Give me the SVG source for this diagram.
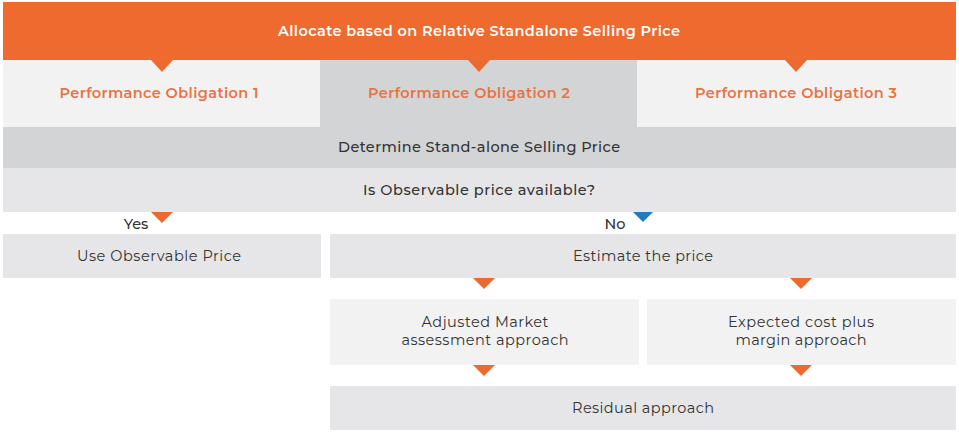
<svg xmlns="http://www.w3.org/2000/svg" width="959" height="433" viewBox="0 0 959 433">
<style>
text{font-family:"Montserrat","DejaVu Sans","Noto Sans",sans-serif;text-anchor:middle;font-size:14.5px}
.hd{fill:#ffffff;font-weight:600}
.po{fill:#e9733f;font-weight:600}
.md{fill:#333333;font-weight:500}
.rg{fill:#333333}
.lt{fill:#f2f2f3}
.dk{fill:#d3d4d6}
.mid{fill:#e6e6e8}
.ar{fill:#ec6a2f}
.bl{fill:#1f7ac4}
</style>
<rect width="959" height="433" fill="#ffffff"/>
<g id="allocate">
<rect x="3" y="2" width="953" height="58" fill="#ee6a2e"/>
<text class="hd" x="479" y="36" textLength="402">Allocate based on Relative Standalone Selling Price</text>
</g>
<g id="po1">
<rect class="lt" x="3" y="60" width="317" height="67"/>
<text class="po" x="159" y="98" textLength="199">Performance Obligation 1</text>
</g>
<g id="po2">
<rect class="dk" x="320" y="60" width="317" height="67"/>
<text class="po" x="469" y="98" textLength="202">Performance Obligation 2</text>
</g>
<g id="po3">
<rect class="lt" x="637" y="60" width="319" height="67"/>
<text class="po" x="796" y="98" textLength="202">Performance Obligation 3</text>
</g>
<g id="determine">
<rect class="dk" x="3" y="127" width="953" height="41"/>
<text class="md" x="479" y="152" textLength="282">Determine Stand-alone Selling Price</text>
</g>
<g id="observable">
<rect class="mid" x="3" y="168" width="953" height="44"/>
<text class="md" x="479" y="195" textLength="232">Is Observable price available?</text>
</g>
<g id="use">
<rect class="mid" x="3" y="234" width="318" height="44"/>
<text class="rg" x="159" y="261" textLength="164">Use Observable Price</text>
</g>
<g id="estimate">
<rect class="mid" x="330" y="234" width="626" height="44"/>
<text class="rg" x="643" y="261" textLength="140">Estimate the price</text>
</g>
<g id="adjusted">
<rect class="lt" x="330" y="299" width="309" height="66"/>
<text class="rg" x="485" y="327" textLength="127">Adjusted Market</text>
<text class="rg" x="485" y="345" textLength="167">assessment approach</text>
</g>
<g id="expected">
<rect class="lt" x="647" y="299" width="309" height="66"/>
<text class="rg" x="801" y="327" textLength="146">Expected cost plus</text>
<text class="rg" x="801" y="345" textLength="131">margin approach</text>
</g>
<g id="residual">
<rect class="mid" x="330" y="386" width="626" height="44"/>
<text class="rg" x="643" y="413" textLength="142">Residual approach</text>
</g>
<g id="connectors">
<polygon class="ar" points="151,60 173,60 162,72"/>
<polygon class="ar" points="468,60 490,60 479,72"/>
<polygon class="ar" points="785,60 807,60 796,72"/>
<polygon class="ar" points="151,212 173,212 162,223"/>
<polygon class="bl" points="633,212 653,212 643,222"/>
<polygon class="ar" points="473,278 495,278 484,289"/>
<polygon class="ar" points="790,278 812,278 801,289"/>
<polygon class="ar" points="473,365 495,365 484,376"/>
<polygon class="ar" points="790,365 812,365 801,376"/>
<text class="rg" x="136" y="229" font-weight="500">Yes</text>
<text class="rg" x="615" y="229" font-weight="500">No</text>
</g>
</svg>
